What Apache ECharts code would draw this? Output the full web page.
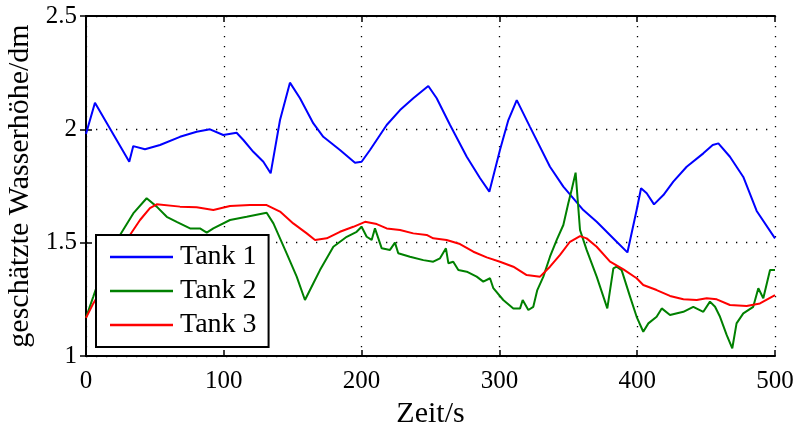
<!DOCTYPE html>
<html>
<head>
<meta charset="utf-8">
<script src="https://cdn.jsdelivr.net/npm/echarts@6/dist/echarts.min.js"></script>
<style>html,body{margin:0;padding:0;background:#fff;}#c{width:797px;height:426px;}</style>
</head>
<body>
<div id="c"></div>
<script>
const xTicks = [0, 100, 200, 300, 400, 500];
const yTicks = [1, 1.5, 2, 2.5];
const seriesNames = ['Tank 1', 'Tank 2', 'Tank 3'];

const tank1Time = [0,6.5,31.4,34.3,42.8,53.7,68.2,80.3,90,99.6,109.3,114.2,121.4,128.7,134,140.8,148,155.3,165,172.2,184.3,195.2,200,206.1,218.2,227.9,237.5,248.4,254.5,264.2,276.3,286,292.7,300.4,306.5,312.6,322.2,336.7,346.4,360.9,370.6,385.1,392.9,399.6,402.8,406.9,412.2,419,426.2,435.9,448,454.8,458.9,467.3,477,486.7,500];
const tank1Level = [1.98,2.117,1.857,1.926,1.912,1.931,1.967,1.989,2.0,1.975,1.985,1.953,1.901,1.857,1.806,2.041,2.206,2.137,2.026,1.967,1.909,1.853,1.857,1.909,2.019,2.085,2.137,2.191,2.137,2.019,1.879,1.784,1.725,1.909,2.041,2.129,2.011,1.835,1.747,1.644,1.592,1.504,1.457,1.644,1.740,1.718,1.669,1.710,1.769,1.835,1.894,1.931,1.938,1.879,1.79,1.64,1.519];

const tank2Time = [0,5.3,12,22,24.7,34.3,44,51.3,58.6,65.8,75.5,82.7,87.6,92.4,104.5,116.6,131.1,136,145.6,152.9,158.9,165,169.8,179.5,189.2,196.4,200,203.7,207.3,209.7,214.6,220.6,224.2,226.6,235.1,244.8,252,256.9,261.2,263,266.5,270.2,276.3,283.5,288.3,293.2,295.6,302.8,310.1,315,316.9,321,324.6,327.5,331.9,336.7,341.6,346.4,350,352.4,355.3,358.5,363.3,370.6,378.3,382.7,385.1,388.7,394.8,399.6,404.4,408.1,414.1,417.8,423.8,433.5,440.7,448,452.8,456.5,460.1,464.9,469,472.1,477,484.2,487.9,491.5,496.4,500];
const tank2Level = [1.17,1.262,1.38,1.51,1.534,1.629,1.696,1.659,1.614,1.592,1.563,1.563,1.544,1.563,1.600,1.614,1.632,1.585,1.453,1.350,1.247,1.321,1.379,1.482,1.526,1.548,1.570,1.526,1.512,1.563,1.475,1.468,1.500,1.453,1.438,1.423,1.416,1.431,1.475,1.409,1.416,1.379,1.372,1.350,1.328,1.343,1.299,1.247,1.210,1.210,1.247,1.203,1.217,1.291,1.350,1.438,1.512,1.578,1.674,1.732,1.809,1.556,1.468,1.350,1.210,1.387,1.394,1.379,1.262,1.173,1.107,1.144,1.173,1.210,1.181,1.195,1.217,1.195,1.240,1.217,1.173,1.093,1.034,1.144,1.188,1.217,1.299,1.255,1.379,1.379];

const tank3Time = [0,5.3,15,25,31.9,39.2,46.4,51.3,68.2,80.3,92.4,104.5,119,131.1,140.8,150.4,160.2,166.2,174.7,184.3,194,202.5,211,218.2,227.9,237.5,247.2,252,261.7,271.4,281.1,290.8,300.4,310.1,319.8,329.5,336.7,344,351.2,358.5,363.3,370.6,380.3,390,399.6,404.4,414.1,423.8,433.5,443.2,450.4,457.7,467.3,479.4,489.1,500];
const tank3Level = [1.168,1.232,1.33,1.46,1.534,1.600,1.652,1.669,1.659,1.656,1.644,1.662,1.666,1.666,1.637,1.585,1.541,1.512,1.519,1.548,1.570,1.592,1.582,1.563,1.556,1.541,1.534,1.519,1.512,1.494,1.460,1.435,1.416,1.394,1.357,1.350,1.394,1.446,1.504,1.529,1.519,1.482,1.416,1.382,1.343,1.313,1.291,1.265,1.250,1.247,1.255,1.250,1.225,1.221,1.232,1.269];

const zip = (a, b) => a.map((t, i) => [t, b[i]]);
const FONT = "'Liberation Serif', serif";
const colors = ['#0000ff', '#008000', '#ff0000'];
const levels = [zip(tank1Time, tank1Level), zip(tank2Time, tank2Level), zip(tank3Time, tank3Level)];

const gridDots = { show: true, lineStyle: { color: '#000', width: 1.3, type: [1.3, 8.7] } };
const axisLine = { show: true, lineStyle: { color: '#000', width: 2 } };
const axisTick = { show: true, inside: true, length: 6, lineStyle: { color: '#000', width: 1.5 } };

const chart = echarts.init(document.getElementById('c'), null, { renderer: 'canvas' });
chart.setOption({
  animation: false,
  backgroundColor: '#fff',
  grid: { left: 86, right: 22, top: 16, bottom: 70, containLabel: false, outerBoundsMode: 'none' },
  xAxis: [{
    type: 'value', min: xTicks[0], max: xTicks[xTicks.length - 1], interval: 100,
    name: 'Zeit/s', nameLocation: 'middle', nameGap: 39,
    nameTextStyle: { fontFamily: FONT, fontSize: 30, color: '#000' },
    axisLine, axisTick, splitLine: gridDots,
    axisLabel: { fontFamily: FONT, fontSize: 25, color: '#000', margin: 13 }
  }, {
    type: 'value', position: 'top', min: xTicks[0], max: xTicks[xTicks.length - 1], interval: 100,
    axisLine, axisTick, splitLine: { show: false }, axisLabel: { show: false }
  }],
  yAxis: [{
    type: 'value', min: yTicks[0], max: yTicks[yTicks.length - 1], interval: 0.5,
    name: 'geschätzte Wasserhöhe/dm', nameLocation: 'middle', nameGap: 51,
    nameTextStyle: { fontFamily: FONT, fontSize: 30, color: '#000' },
    axisLine, axisTick, splitLine: gridDots,
    axisLabel: { fontFamily: FONT, fontSize: 25, color: '#000', margin: 9 }
  }, {
    type: 'value', position: 'right', min: yTicks[0], max: yTicks[yTicks.length - 1], interval: 0.5,
    axisLine, axisTick, splitLine: { show: false }, axisLabel: { show: false }
  }],
  legend: {
    orient: 'vertical', left: 96, top: 235,
    data: seriesNames,
    icon: 'rect', itemWidth: 63, itemHeight: 2.5, itemGap: 6,
    padding: [8, 12, 8, 14],
    backgroundColor: '#fff', borderColor: '#000', borderWidth: 2,
    textStyle: { fontFamily: FONT, fontSize: 28, color: '#000', padding: [0, 0, 0, 2] }
  },
  series: seriesNames.map((n, i) => ({
    name: n, type: 'line', data: levels[i], showSymbol: false, symbol: 'none',
    lineStyle: { color: colors[i], width: 2 }, itemStyle: { color: colors[i] },
    z: 3
  }))
});
</script>
</body>
</html>
